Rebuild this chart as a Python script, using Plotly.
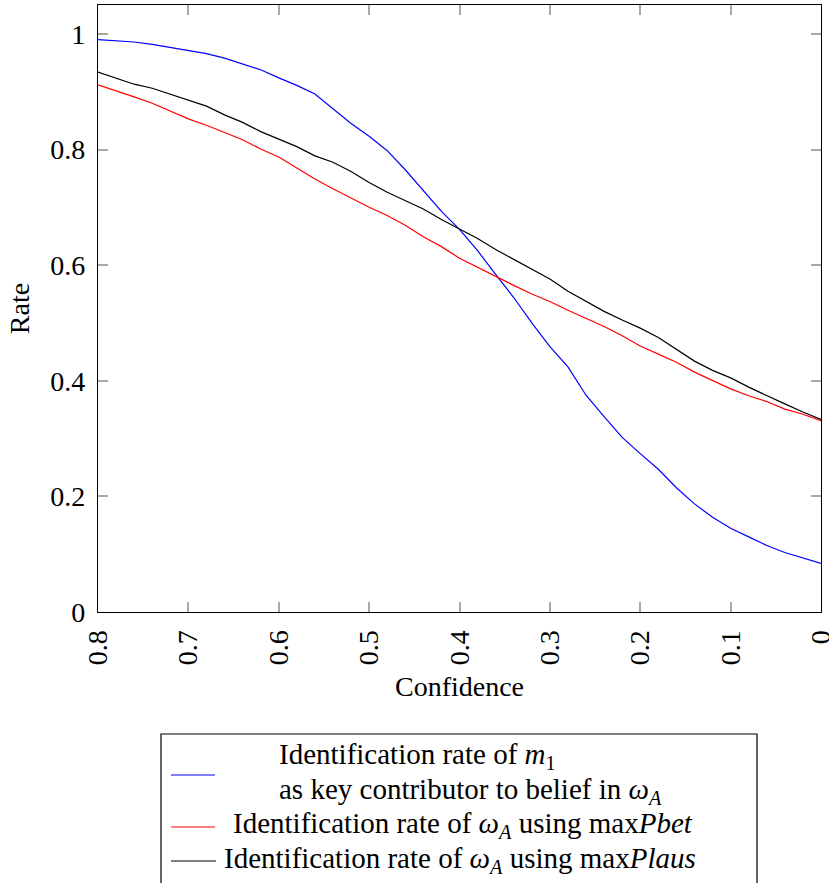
import plotly.graph_objects as go

# ---- data ----
confidence = [0.80, 0.78, 0.76, 0.74, 0.72, 0.70, 0.68, 0.66, 0.64, 0.62,
              0.60, 0.58, 0.56, 0.54, 0.52, 0.50, 0.48, 0.46, 0.44, 0.42,
              0.40, 0.38, 0.36, 0.34, 0.32, 0.30, 0.28, 0.26, 0.24, 0.22,
              0.20, 0.18, 0.16, 0.14, 0.12, 0.10, 0.08, 0.06, 0.04, 0.02, 0.00]

rate_m1 = [0.990, 0.988, 0.986, 0.982, 0.977, 0.971, 0.966, 0.958, 0.948, 0.938,
           0.924, 0.911, 0.896, 0.870, 0.845, 0.823, 0.798, 0.765, 0.728, 0.693,
           0.662, 0.625, 0.584, 0.544, 0.500, 0.459, 0.424, 0.375, 0.338, 0.302,
           0.274, 0.247, 0.215, 0.187, 0.164, 0.145, 0.130, 0.115, 0.103, 0.093, 0.084]

rate_pbet = [0.912, 0.902, 0.891, 0.880, 0.866, 0.853, 0.842, 0.830, 0.817, 0.801,
             0.787, 0.768, 0.749, 0.732, 0.716, 0.700, 0.686, 0.669, 0.649, 0.632,
             0.612, 0.596, 0.581, 0.565, 0.550, 0.537, 0.522, 0.508, 0.494, 0.478,
             0.460, 0.446, 0.432, 0.415, 0.401, 0.386, 0.374, 0.364, 0.351, 0.342, 0.331]

rate_plaus = [0.934, 0.924, 0.913, 0.906, 0.896, 0.885, 0.875, 0.860, 0.847, 0.831,
              0.818, 0.805, 0.789, 0.778, 0.762, 0.743, 0.726, 0.712, 0.697, 0.679,
              0.662, 0.646, 0.627, 0.610, 0.594, 0.576, 0.555, 0.537, 0.520, 0.505,
              0.491, 0.475, 0.454, 0.434, 0.418, 0.405, 0.389, 0.374, 0.360, 0.346, 0.333]

x_ticks = [0.8, 0.7, 0.6, 0.5, 0.4, 0.3, 0.2, 0.1, 0.0]
x_tick_labels = ["0.8", "0.7", "0.6", "0.5", "0.4", "0.3", "0.2", "0.1", "0"]
y_ticks = [0, 0.2, 0.4, 0.6, 0.8, 1.0]
y_tick_labels = ["0", "0.2", "0.4", "0.6", "0.8", "1"]

legend_lines = [
    ["Identification rate of <i>m</i><sub>1</sub>",
     "as key contributor to belief in <i>ω</i><sub><i>A</i></sub>"],
    ["Identification rate of <i>ω</i><sub><i>A</i></sub> using max<i>Pbet</i>"],
    ["Identification rate of <i>ω</i><sub><i>A</i></sub> using max<i>Plaus</i>"],
]
series_colors = ["#0000ff", "#ff0000", "#000000"]

# ---- layout geometry ----
W, H = 829, 883
ML, MR, MT, MB = 98, 8, 5, 271
PW, PH = W - ML - MR, H - MT - MB
FONT = "Liberation Serif"
FS = 28
LFS = 29


def px_x(p):
    return (p - ML) / PW


def px_y(p):
    return (H - MB - p) / PH


fig = go.Figure()
for ys, col in zip([rate_m1, rate_pbet, rate_plaus], series_colors):
    fig.add_trace(go.Scatter(x=confidence, y=ys, mode="lines",
                             line=dict(color=col, width=1.2),
                             showlegend=False, hoverinfo="skip"))

axis_common = dict(
    showline=True, linecolor="black", linewidth=1.3, mirror="ticks",
    ticks="inside", ticklen=10, tickwidth=1.5, tickcolor="#a8a8a8",
    showgrid=False, zeroline=False,
    tickfont=dict(family=FONT, size=FS, color="black"),
)

fig.update_xaxes(range=[0.8, 0.0], tickvals=x_ticks, ticktext=x_tick_labels,
                 tickangle=-90, ticklabelstandoff=6, ticklabeloverflow="allow",
                 title=dict(text="Confidence", standoff=12,
                            font=dict(family=FONT, size=FS, color="black")),
                 **axis_common)
fig.update_yaxes(range=[0, 1.05], tickvals=y_ticks, ticktext=y_tick_labels,
                 ticklabelstandoff=6,
                 title=dict(text="Rate", standoff=12,
                            font=dict(family=FONT, size=FS, color="black")),
                 **axis_common)

# ---- hand-drawn legend (centered pgfplots-like legend) ----
shapes = [dict(type="rect", xref="paper", yref="paper",
               x0=px_x(161), x1=px_x(757), y0=px_y(734), y1=px_y(905),
               line=dict(color="black", width=1.2), fillcolor="white", layer="above")]
sample_y = [775, 827, 861]
sample_x1 = [215, 215, 216]
for yy, x1, col in zip(sample_y, sample_x1, series_colors):
    shapes.append(dict(type="line", xref="paper", yref="paper",
                       x0=px_x(171), x1=px_x(x1), y0=px_y(yy), y1=px_y(yy),
                       line=dict(color=col, width=1.2), layer="above"))

annotations = []
text_pos = [[(277, 756), (277, 791)], [(231, 825)], [(222, 860)]]
for lines, poss in zip(legend_lines, text_pos):
    for t, (xx, yy) in zip(lines, poss):
        annotations.append(dict(text=t, xref="paper", yref="paper",
                                x=px_x(xx), y=px_y(yy), xanchor="left", yanchor="middle",
                                showarrow=False,
                                font=dict(family=FONT, size=LFS, color="black")))

fig.update_layout(
    width=W, height=H,
    margin=dict(l=ML, r=MR, t=MT, b=MB, autoexpand=False),
    plot_bgcolor="white", paper_bgcolor="white",
    shapes=shapes, annotations=annotations,
    font=dict(family=FONT, size=FS, color="black"),
)

fig.write_html("out.html")
